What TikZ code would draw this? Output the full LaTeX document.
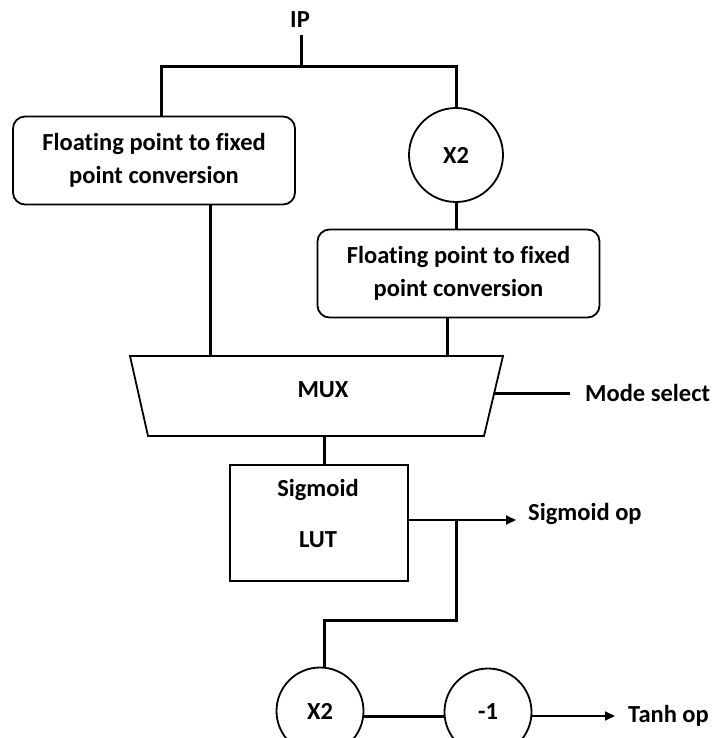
\documentclass[tikz,border=0pt]{standalone}
\usepackage{fontspec}
\setmainfont{Carlito}[Ligatures={NoCommon}]
\usetikzlibrary{arrows.meta}
\begin{document}
\begin{tikzpicture}[x=1pt,y=-1pt,
  every node/.style={font=\bfseries\fontsize{24.5}{29}\selectfont},
  wire/.style={line width=3pt},
  conv/.style={draw,line width=1.8pt,rounded corners=12pt,minimum width=282pt,minimum height=88pt,align=center,inner sep=0pt},
  mult/.style={draw,circle,line width=1.8pt,minimum size=94pt,inner sep=0pt},
  multb/.style={draw,circle,line width=1.8pt,minimum size=87pt,inner sep=0pt},
  lut/.style={draw,line width=1.8pt,minimum width=178pt,minimum height=116pt,inner sep=0pt},
  lbl/.style={anchor=west,inner sep=0pt},
  arr/.style={line width=1.8pt,-{Triangle[length=10pt,width=9pt]}}]
\clip (0,0) rectangle (713,738);
\fill[white] (0,0) rectangle (713,738);
% input
\node[inner sep=0pt] (ip) at (300,20) {IP};
\coordinate (ipS) at (301,35);
\coordinate (top) at (301,67);
\coordinate (topL) at (161,67);
\coordinate (topR) at (456,67);
\node[conv] (c1) at (154,160.5) {Floating point to fixed\\[4pt]point conversion};
\node[mult] (m1) at (456,155) {X2};
\node[conv] (c2) at (458.5,273.5) {Floating point to fixed\\[4pt]point conversion};
% MUX
\coordinate (muxTL) at (130,356);
\coordinate (muxTR) at (503,356);
\coordinate (muxBR) at (484,436);
\coordinate (muxBL) at (148,436);
\draw[line width=1.8pt,fill=white] (muxTL) -- (muxTR) -- (muxBR) -- (muxBL) -- cycle;
\node (mux) at (323,390) {MUX};
\coordinate (muxR) at (494,393);
\coordinate (msEnd) at (570,393);
\node[lbl] (ms) at (585,393) {Mode select};
% sigmoid
\node[lut] (lut) at (319,523) {};
\node (lt1) at (318,490) {Sigmoid};
\node (lt2) at (318,540) {LUT};
\coordinate (lutR) at (408,520);
\coordinate (br) at (456,520);
\coordinate (sigEnd) at (516,520);
\node[lbl] (sop) at (528,514) {Sigmoid op};
\coordinate (j1) at (456,620);
\coordinate (j2) at (324,620);
\node[multb] (m2) at (320,711) {X2};
\node[multb] (m3) at (488,712) {-1};
\coordinate (tEnd) at (615,716);
\node[lbl] (top2) at (628,716) {Tanh op};
% wires
\draw[wire] (ipS) -- (top);
\draw[wire] (c1.north -| topL) -- (topL) -- (topR) -- (m1.north);
\draw[wire] (m1.south) -- (m1.south |- c2.north);
\draw[wire] (210,204) -- (210,356);
\draw[wire] (447,317.5) -- (447,356);
\draw[wire] (muxR) -- (msEnd);
\draw[wire] (324,436) -- (324,465);
\draw[arr] (lutR) -- (sigEnd);
\draw[wire] (br) -- (j1) -- (j2) -- (324,667.5);
\draw[wire] (m2.east |- 0,716) -- (m3.west |- 0,716);
\draw[arr] (m3.east |- 0,716) -- (tEnd);
\end{tikzpicture}
\end{document}
